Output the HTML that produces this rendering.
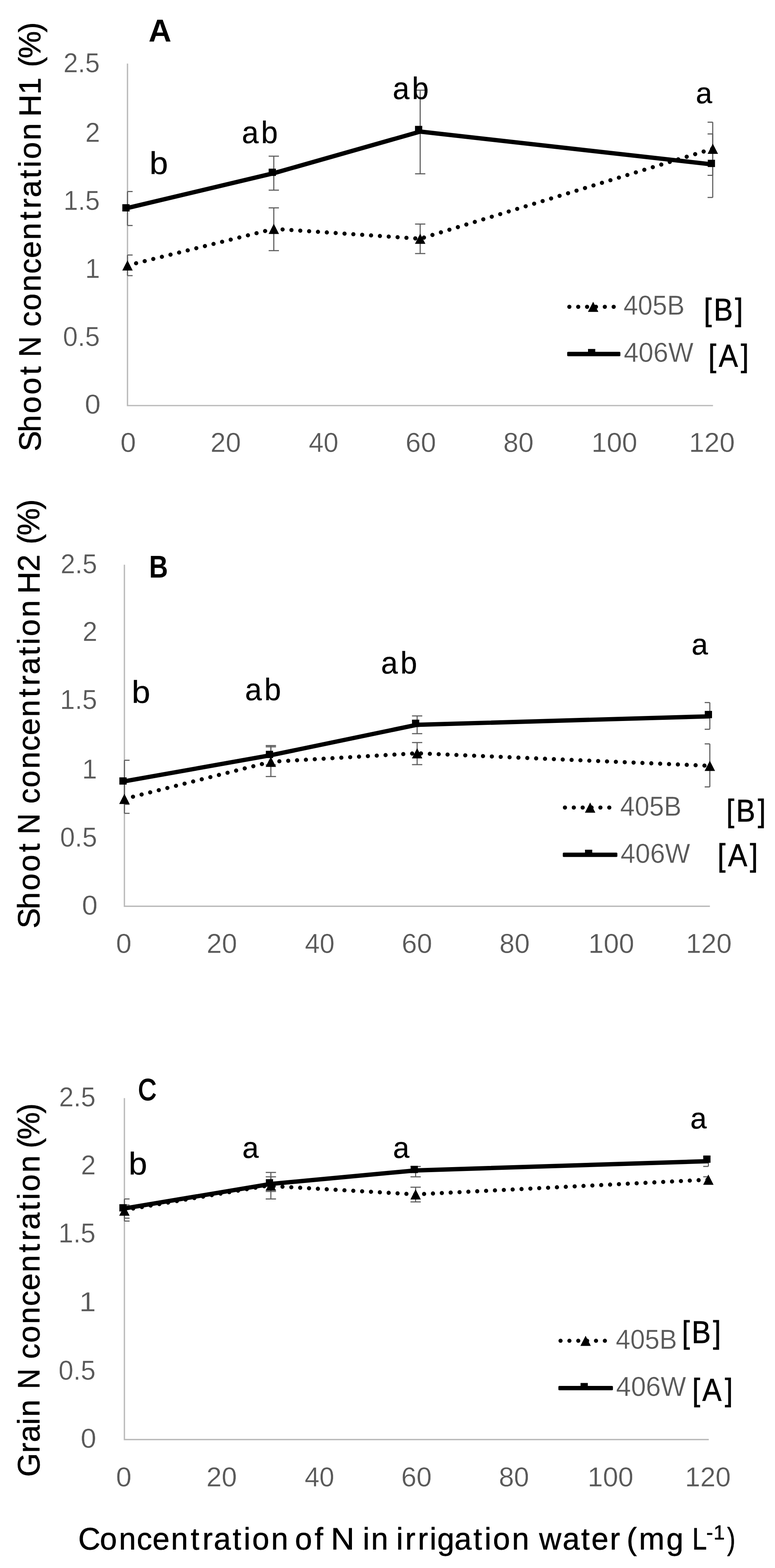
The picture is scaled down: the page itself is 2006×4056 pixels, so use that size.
<!DOCTYPE html>
<html lang="en">
<head>
<meta charset="utf-8">
<title>Shoot and grain N concentration</title>
<style>
html,body{margin:0;padding:0;background:#fff;}
body{width:2006px;height:4056px;overflow:hidden;}
svg{display:block;}
text{font-family:"Liberation Sans",Arial,sans-serif;white-space:pre;}
.g{stroke:#fff;stroke-width:0.5px;}
.k{stroke:#000;stroke-width:0.4px;}
.h{stroke:#000;stroke-width:1px;}
.t{stroke:#000;stroke-width:0.9px;stroke-linejoin:round;}
.p{stroke:#000;stroke-width:2.4px;}
</style>
</head>
<body>
<svg width="2006" height="4056" viewBox="0 0 2006 4056" font-family="Liberation Sans, Arial, sans-serif" role="img" aria-label="Shoot and grain N concentration versus N concentration in irrigation water">
<rect width="2006" height="4056" fill="#fff"/>
<path d="M330.00,164.40 V1049.10 H1845.50" fill="none" stroke="#b9b9b9" stroke-width="3.4"/>
<text transform="translate(164.17,187.45) scale(0.9672,1)" font-size="69.99" fill="#595959" class="g">2.5</text>
<text transform="translate(220.81,367.05) scale(0.9829,1)" font-size="69.99" fill="#595959" class="g">2</text>
<text transform="translate(164.49,543.15) scale(0.9637,1)" font-size="69.99" fill="#595959" class="g">1.5</text>
<text transform="translate(220.58,718.95) scale(0.9845,1)" font-size="69.99" fill="#595959" class="g">1</text>
<text transform="translate(163.01,894.75) scale(0.9794,1)" font-size="69.99" fill="#595959" class="g">0.5</text>
<text transform="translate(219.41,1069.95) scale(1.0503,1)" font-size="69.99" fill="#595959" class="g">0</text>
<text transform="translate(311.86,1169.25) scale(1.0323,1)" font-size="69.99" fill="#595959" class="g">0</text>
<text transform="translate(544.70,1169.25) scale(1.0131,1)" font-size="69.99" fill="#595959" class="g">20</text>
<text transform="translate(799.20,1169.25) scale(0.9865,1)" font-size="69.99" fill="#595959" class="g">40</text>
<text transform="translate(1049.70,1169.25) scale(1.0131,1)" font-size="69.99" fill="#595959" class="g">60</text>
<text transform="translate(1302.76,1169.25) scale(1.0057,1)" font-size="69.99" fill="#595959" class="g">80</text>
<text transform="translate(1530.92,1169.25) scale(1.0153,1)" font-size="69.99" fill="#595959" class="g">100</text>
<text transform="translate(1783.42,1169.25) scale(1.0153,1)" font-size="69.99" fill="#595959" class="g">120</text>
<line x1="330.00" y1="495.40" x2="330.00" y2="583.30" stroke="#5c5c5c" stroke-width="2.8" />
<line x1="330.00" y1="495.40" x2="343.30" y2="495.40" stroke="#5c5c5c" stroke-width="2.8" />
<line x1="330.00" y1="583.30" x2="343.30" y2="583.30" stroke="#5c5c5c" stroke-width="2.8" />
<line x1="708.70" y1="404.00" x2="708.70" y2="491.90" stroke="#5c5c5c" stroke-width="2.8" />
<line x1="695.40" y1="404.00" x2="722.00" y2="404.00" stroke="#5c5c5c" stroke-width="2.8" />
<line x1="695.40" y1="491.90" x2="722.00" y2="491.90" stroke="#5c5c5c" stroke-width="2.8" />
<line x1="1087.60" y1="233.20" x2="1087.60" y2="449.60" stroke="#5c5c5c" stroke-width="2.8" />
<line x1="1074.30" y1="233.20" x2="1100.90" y2="233.20" stroke="#5c5c5c" stroke-width="2.8" />
<line x1="1074.30" y1="449.60" x2="1100.90" y2="449.60" stroke="#5c5c5c" stroke-width="2.8" />
<line x1="1844.80" y1="346.50" x2="1844.80" y2="510.80" stroke="#5c5c5c" stroke-width="2.8" />
<line x1="1831.50" y1="346.50" x2="1844.80" y2="346.50" stroke="#5c5c5c" stroke-width="2.8" />
<line x1="1831.50" y1="510.80" x2="1844.80" y2="510.80" stroke="#5c5c5c" stroke-width="2.8" />
<line x1="330.00" y1="659.70" x2="330.00" y2="713.00" stroke="#5c5c5c" stroke-width="2.8" />
<line x1="330.00" y1="659.70" x2="343.30" y2="659.70" stroke="#5c5c5c" stroke-width="2.8" />
<line x1="330.00" y1="713.00" x2="343.30" y2="713.00" stroke="#5c5c5c" stroke-width="2.8" />
<line x1="708.70" y1="537.70" x2="708.70" y2="648.30" stroke="#5c5c5c" stroke-width="2.8" />
<line x1="695.40" y1="537.70" x2="722.00" y2="537.70" stroke="#5c5c5c" stroke-width="2.8" />
<line x1="695.40" y1="648.30" x2="722.00" y2="648.30" stroke="#5c5c5c" stroke-width="2.8" />
<line x1="1087.60" y1="579.60" x2="1087.60" y2="655.90" stroke="#5c5c5c" stroke-width="2.8" />
<line x1="1074.30" y1="579.60" x2="1100.90" y2="579.60" stroke="#5c5c5c" stroke-width="2.8" />
<line x1="1074.30" y1="655.90" x2="1100.90" y2="655.90" stroke="#5c5c5c" stroke-width="2.8" />
<line x1="1844.80" y1="316.10" x2="1844.80" y2="453.60" stroke="#5c5c5c" stroke-width="2.8" />
<line x1="1831.50" y1="316.10" x2="1844.80" y2="316.10" stroke="#5c5c5c" stroke-width="2.8" />
<line x1="1831.50" y1="453.60" x2="1844.80" y2="453.60" stroke="#5c5c5c" stroke-width="2.8" />
<path d="M330.00,686.50 L708.70,592.00 L1087.60,617.50 L1845.00,384.70" fill="none" stroke="#000" stroke-width="10.8" stroke-linecap="round" stroke-dasharray="0.01 22.94" stroke-dashoffset="0.00" stroke-linejoin="round"/>
<polygon points="330.00,673.30 343.50,699.70 316.50,699.70" fill="#000"/>
<polygon points="708.70,578.80 722.20,605.20 695.20,605.20" fill="#000"/>
<polygon points="1087.60,604.30 1101.10,630.70 1074.10,630.70" fill="#000"/>
<polygon points="1845.00,371.50 1858.50,397.90 1831.50,397.90" fill="#000"/>
<path d="M330.00,538.00 L708.70,448.00 L1087.60,340.40 L1845.00,425.50" fill="none" stroke="#000" stroke-width="11.2" stroke-linejoin="round"/>
<rect x="316.60" y="528.20" width="18.8" height="18.8" fill="#000"/>
<rect x="695.40" y="436.30" width="18.8" height="18.8" fill="#000"/>
<rect x="1074.20" y="325.60" width="18.8" height="18.8" fill="#000"/>
<rect x="1831.90" y="413.30" width="18.8" height="18.8" fill="#000"/>
<text transform="translate(387.00,450.20) scale(1.0579,1)" font-size="81.5" fill="#000" class="k">b</text>
<text transform="scale(0.97,1)" x="645.44 696.76" y="370.30" font-size="80.5" fill="#000" class="k">ab</text>
<text transform="scale(0.97,1)" x="1047.91 1099.23" y="255.80" font-size="80.5" fill="#000" class="k">ab</text>
<text transform="translate(1801.07,267.00) scale(1.0013,1)" font-size="76" fill="#000" class="k">a</text>
<text transform="translate(384.55,106.60) scale(1.0116,1)" font-size="81" fill="#000" font-weight="700">A</text>
<line x1="1473.70" y1="793.60" x2="1589.45" y2="793.60" stroke="#000" stroke-width="10.8" stroke-linecap="round" stroke-dasharray="0.01 22.94"/>
<polygon points="1535.30,780.40 1548.80,806.80 1521.80,806.80" fill="#000"/>
<rect x="1468.10" y="910.00" width="137.70" height="11.4" rx="2.5" fill="#000"/>
<rect x="1522.00" y="902.70" width="18.8" height="14" fill="#000"/>
<text transform="translate(1613.63,814.05) scale(0.9679,1)" font-size="69.99" fill="#595959" class="g">405B</text>
<text transform="translate(1614.40,936.35) scale(0.9872,1)" font-size="69.99" fill="#595959" class="g">406W</text>
<text transform="scale(0.9,1)" x="2024.13 2052.67 2113.99" y="829.30" font-size="82.5" fill="#000" class="h">[B]</text>
<text transform="scale(0.9,1)" x="2037.35 2067.19 2130.66" y="947.70" font-size="82.5" fill="#000" class="h">[A]</text>
<text transform="translate(105.20,1159.30) rotate(-90) scale(1.0,1)" x="-8.20 41.56 90.03 138.60 189.50" y="0" font-size="79.5" fill="#000" class="t">Shoot</text>
<text transform="translate(105.20,923.53) rotate(-90) scale(0.9341,1)" font-size="79.5" fill="#000" class="t">N</text>
<text transform="translate(105.20,841.40) rotate(-90) scale(1.0,1)" x="-3.61 38.21 86.97 133.13 173.60 221.02 272.06 301.92 330.97 379.88 408.12 429.89 478.65" y="0" font-size="79.5" fill="#000" class="t">concentration</text>
<text transform="translate(105.20,294.80) rotate(-90) scale(1.0,1)" x="-7.13 50.24" y="0" font-size="79.5" fill="#000" class="t">H1</text>
<text transform="translate(105.20,169.00) rotate(-90) scale(1.0,1)" x="-4.85 17.98 85.02" y="0" font-size="79.5" fill="#000" class="t">(%)</text>
<path d="M322.00,1460.80 V2344.30 H1837.50" fill="none" stroke="#b9b9b9" stroke-width="3.4"/>
<text transform="translate(156.85,1483.05) scale(0.9705,1)" font-size="69.99" fill="#595959" class="g">2.5</text>
<text transform="translate(213.81,1658.45) scale(0.9829,1)" font-size="69.99" fill="#595959" class="g">2</text>
<text transform="translate(155.59,1834.35) scale(0.9839,1)" font-size="69.99" fill="#595959" class="g">1.5</text>
<text transform="translate(212.51,2014.25) scale(0.9977,1)" font-size="69.99" fill="#595959" class="g">1</text>
<text transform="translate(155.49,2189.55) scale(0.9849,1)" font-size="69.99" fill="#595959" class="g">0.5</text>
<text transform="translate(212.03,2365.55) scale(1.0443,1)" font-size="69.99" fill="#595959" class="g">0</text>
<text transform="translate(300.36,2465.05) scale(1.0323,1)" font-size="69.99" fill="#595959" class="g">0</text>
<text transform="translate(534.70,2465.05) scale(1.0131,1)" font-size="69.99" fill="#595959" class="g">20</text>
<text transform="translate(789.20,2465.05) scale(0.9865,1)" font-size="69.99" fill="#595959" class="g">40</text>
<text transform="translate(1039.70,2465.05) scale(1.0131,1)" font-size="69.99" fill="#595959" class="g">60</text>
<text transform="translate(1292.76,2465.05) scale(1.0057,1)" font-size="69.99" fill="#595959" class="g">80</text>
<text transform="translate(1522.92,2465.05) scale(1.0153,1)" font-size="69.99" fill="#595959" class="g">100</text>
<text transform="translate(1775.42,2465.05) scale(1.0153,1)" font-size="69.99" fill="#595959" class="g">120</text>
<line x1="322.10" y1="1966.60" x2="322.10" y2="2080.60" stroke="#5c5c5c" stroke-width="2.8" />
<line x1="322.10" y1="1966.60" x2="335.40" y2="1966.60" stroke="#5c5c5c" stroke-width="2.8" />
<line x1="322.10" y1="2080.60" x2="335.40" y2="2080.60" stroke="#5c5c5c" stroke-width="2.8" />
<line x1="701.10" y1="1928.60" x2="701.10" y2="1978.60" stroke="#5c5c5c" stroke-width="2.8" />
<line x1="687.80" y1="1928.60" x2="714.40" y2="1928.60" stroke="#5c5c5c" stroke-width="2.8" />
<line x1="687.80" y1="1978.60" x2="714.40" y2="1978.60" stroke="#5c5c5c" stroke-width="2.8" />
<line x1="1079.70" y1="1851.90" x2="1079.70" y2="1897.80" stroke="#5c5c5c" stroke-width="2.8" />
<line x1="1066.40" y1="1851.90" x2="1093.00" y2="1851.90" stroke="#5c5c5c" stroke-width="2.8" />
<line x1="1066.40" y1="1897.80" x2="1093.00" y2="1897.80" stroke="#5c5c5c" stroke-width="2.8" />
<line x1="1837.30" y1="1817.30" x2="1837.30" y2="1886.40" stroke="#5c5c5c" stroke-width="2.8" />
<line x1="1824.00" y1="1817.30" x2="1837.30" y2="1817.30" stroke="#5c5c5c" stroke-width="2.8" />
<line x1="1824.00" y1="1886.40" x2="1837.30" y2="1886.40" stroke="#5c5c5c" stroke-width="2.8" />
<line x1="322.10" y1="2031.00" x2="322.10" y2="2103.90" stroke="#5c5c5c" stroke-width="2.8" />
<line x1="322.10" y1="2103.90" x2="335.40" y2="2103.90" stroke="#5c5c5c" stroke-width="2.8" />
<line x1="701.10" y1="1931.90" x2="701.10" y2="2008.70" stroke="#5c5c5c" stroke-width="2.8" />
<line x1="687.80" y1="1931.90" x2="714.40" y2="1931.90" stroke="#5c5c5c" stroke-width="2.8" />
<line x1="687.80" y1="2008.70" x2="714.40" y2="2008.70" stroke="#5c5c5c" stroke-width="2.8" />
<line x1="1079.70" y1="1920.80" x2="1079.70" y2="1977.90" stroke="#5c5c5c" stroke-width="2.8" />
<line x1="1066.40" y1="1920.80" x2="1093.00" y2="1920.80" stroke="#5c5c5c" stroke-width="2.8" />
<line x1="1066.40" y1="1977.90" x2="1093.00" y2="1977.90" stroke="#5c5c5c" stroke-width="2.8" />
<line x1="1837.30" y1="1924.20" x2="1837.30" y2="2035.50" stroke="#5c5c5c" stroke-width="2.8" />
<line x1="1824.00" y1="1924.20" x2="1837.30" y2="1924.20" stroke="#5c5c5c" stroke-width="2.8" />
<line x1="1824.00" y1="2035.50" x2="1837.30" y2="2035.50" stroke="#5c5c5c" stroke-width="2.8" />
<path d="M322.00,2066.50 L701.00,1970.50 L1079.70,1948.50 L1837.30,1981.00" fill="none" stroke="#000" stroke-width="10.8" stroke-linecap="round" stroke-dasharray="0.01 22.94" stroke-dashoffset="0.00" stroke-linejoin="round"/>
<polygon points="322.00,2053.30 335.50,2079.70 308.50,2079.70" fill="#000"/>
<polygon points="701.00,1957.30 714.50,1983.70 687.50,1983.70" fill="#000"/>
<polygon points="1079.70,1935.30 1093.20,1961.70 1066.20,1961.70" fill="#000"/>
<polygon points="1837.30,1967.80 1850.80,1994.20 1823.80,1994.20" fill="#000"/>
<path d="M322.00,2021.00 L701.00,1953.60 L1079.60,1874.80 L1837.30,1853.00" fill="none" stroke="#000" stroke-width="11.2" stroke-linejoin="round"/>
<rect x="309.00" y="2010.80" width="18.8" height="18.8" fill="#000"/>
<rect x="688.10" y="1942.10" width="18.8" height="18.8" fill="#000"/>
<rect x="1066.40" y="1861.60" width="18.8" height="18.8" fill="#000"/>
<rect x="1824.20" y="1838.90" width="18.8" height="18.8" fill="#000"/>
<text transform="translate(341.00,1818.10) scale(1.0579,1)" font-size="81.5" fill="#000" class="k">b</text>
<text transform="scale(0.97,1)" x="653.79 705.11" y="1810.60" font-size="80.5" fill="#000" class="k">ab</text>
<text transform="scale(0.97,1)" x="1016.88 1068.20" y="1741.70" font-size="80.5" fill="#000" class="k">ab</text>
<text transform="translate(1790.07,1692.50) scale(1.0013,1)" font-size="76" fill="#000" class="k">a</text>
<text transform="translate(385.94,1494.00) scale(0.8338,1)" font-size="81" fill="#000" font-weight="700">B</text>
<line x1="1462.30" y1="2088.90" x2="1578.05" y2="2088.90" stroke="#000" stroke-width="10.8" stroke-linecap="round" stroke-dasharray="0.01 22.94"/>
<polygon points="1527.50,2075.80 1541.00,2102.20 1514.00,2102.20" fill="#000"/>
<rect x="1456.70" y="2205.40" width="141.30" height="11.4" rx="2.5" fill="#000"/>
<rect x="1514.20" y="2198.00" width="18.8" height="14" fill="#000"/>
<text transform="translate(1605.22,2109.85) scale(0.9692,1)" font-size="69.99" fill="#595959" class="g">405B</text>
<text transform="translate(1606.20,2232.25) scale(0.9860,1)" font-size="69.99" fill="#595959" class="g">406W</text>
<text transform="scale(0.9,1)" x="2089.02 2117.01 2179.44" y="2125.30" font-size="82.5" fill="#000" class="h">[B]</text>
<text transform="scale(0.9,1)" x="2063.69 2093.80 2156.66" y="2239.60" font-size="82.5" fill="#000" class="h">[A]</text>
<text transform="translate(102.00,2393.50) rotate(-90) scale(1.0,1)" x="-8.20 41.56 90.03 138.60 189.50" y="0" font-size="79.5" fill="#000" class="t">Shoot</text>
<text transform="translate(102.00,2158.30) rotate(-90) scale(0.9454,1)" font-size="79.5" fill="#000" class="t">N</text>
<text transform="translate(102.00,2075.50) rotate(-90) scale(1.0,1)" x="-3.61 38.21 86.97 133.13 173.60 221.02 272.06 301.92 330.97 379.88 408.12 429.89 478.65" y="0" font-size="79.5" fill="#000" class="t">concentration</text>
<text transform="translate(102.00,1528.90) rotate(-90) scale(1.0,1)" x="-7.08 50.37" y="0" font-size="79.5" fill="#000" class="t">H2</text>
<text transform="translate(102.00,1403.10) rotate(-90) scale(1.0,1)" x="-4.84 18.03 85.11" y="0" font-size="79.5" fill="#000" class="t">(%)</text>
<path d="M322.00,2840.50 V3723.70 H1834.60" fill="none" stroke="#b9b9b9" stroke-width="3.4"/>
<text transform="translate(152.75,2862.45) scale(0.9716,1)" font-size="69.99" fill="#595959" class="g">2.5</text>
<text transform="translate(209.59,3037.85) scale(0.9892,1)" font-size="69.99" fill="#595959" class="g">2</text>
<text transform="translate(151.16,3213.95) scale(0.9884,1)" font-size="69.99" fill="#595959" class="g">1.5</text>
<text transform="translate(204.89,3392.15) scale(1.1166,1)" font-size="69.99" fill="#595959" class="g">1</text>
<text transform="translate(151.39,3569.05) scale(0.9860,1)" font-size="69.99" fill="#595959" class="g">0.5</text>
<text transform="translate(208.84,3744.85) scale(1.0383,1)" font-size="69.99" fill="#595959" class="g">0</text>
<text transform="translate(300.36,3845.25) scale(1.0323,1)" font-size="69.99" fill="#595959" class="g">0</text>
<text transform="translate(534.30,3845.25) scale(1.0131,1)" font-size="69.99" fill="#595959" class="g">20</text>
<text transform="translate(788.40,3845.25) scale(0.9865,1)" font-size="69.99" fill="#595959" class="g">40</text>
<text transform="translate(1038.50,3845.25) scale(1.0131,1)" font-size="69.99" fill="#595959" class="g">60</text>
<text transform="translate(1291.16,3845.25) scale(1.0057,1)" font-size="69.99" fill="#595959" class="g">80</text>
<text transform="translate(1520.92,3845.25) scale(1.0153,1)" font-size="69.99" fill="#595959" class="g">100</text>
<text transform="translate(1773.02,3845.25) scale(1.0153,1)" font-size="69.99" fill="#595959" class="g">120</text>
<line x1="322.10" y1="3101.40" x2="322.10" y2="3151.10" stroke="#5c5c5c" stroke-width="2.8" />
<line x1="322.10" y1="3101.40" x2="335.40" y2="3101.40" stroke="#5c5c5c" stroke-width="2.8" />
<line x1="322.10" y1="3151.10" x2="335.40" y2="3151.10" stroke="#5c5c5c" stroke-width="2.8" />
<line x1="322.10" y1="3117.00" x2="322.10" y2="3158.60" stroke="#5c5c5c" stroke-width="2.8" />
<line x1="322.10" y1="3117.00" x2="335.40" y2="3117.00" stroke="#5c5c5c" stroke-width="2.8" />
<line x1="322.10" y1="3158.60" x2="335.40" y2="3158.60" stroke="#5c5c5c" stroke-width="2.8" />
<line x1="701.10" y1="3044.10" x2="701.10" y2="3081.90" stroke="#5c5c5c" stroke-width="2.8" />
<line x1="687.80" y1="3044.10" x2="714.40" y2="3044.10" stroke="#5c5c5c" stroke-width="2.8" />
<line x1="687.80" y1="3081.90" x2="714.40" y2="3081.90" stroke="#5c5c5c" stroke-width="2.8" />
<line x1="701.10" y1="3032.80" x2="701.10" y2="3101.40" stroke="#5c5c5c" stroke-width="2.8" />
<line x1="687.80" y1="3032.80" x2="714.40" y2="3032.80" stroke="#5c5c5c" stroke-width="2.8" />
<line x1="687.80" y1="3101.40" x2="714.40" y2="3101.40" stroke="#5c5c5c" stroke-width="2.8" />
<line x1="1075.80" y1="3017.30" x2="1075.80" y2="3044.10" stroke="#5c5c5c" stroke-width="2.8" />
<line x1="1062.50" y1="3017.30" x2="1089.10" y2="3017.30" stroke="#5c5c5c" stroke-width="2.8" />
<line x1="1062.50" y1="3044.10" x2="1089.10" y2="3044.10" stroke="#5c5c5c" stroke-width="2.8" />
<line x1="1075.80" y1="3071.00" x2="1075.80" y2="3109.00" stroke="#5c5c5c" stroke-width="2.8" />
<line x1="1062.50" y1="3071.00" x2="1089.10" y2="3071.00" stroke="#5c5c5c" stroke-width="2.8" />
<line x1="1062.50" y1="3109.00" x2="1089.10" y2="3109.00" stroke="#5c5c5c" stroke-width="2.8" />
<line x1="1833.50" y1="2993.00" x2="1833.50" y2="3017.20" stroke="#5c5c5c" stroke-width="2.8" />
<line x1="1820.20" y1="2993.00" x2="1833.50" y2="2993.00" stroke="#5c5c5c" stroke-width="2.8" />
<line x1="1820.20" y1="3017.20" x2="1833.50" y2="3017.20" stroke="#5c5c5c" stroke-width="2.8" />
<line x1="1833.50" y1="3044.00" x2="1833.50" y2="3060.00" stroke="#5c5c5c" stroke-width="2.8" />
<line x1="1820.20" y1="3044.00" x2="1833.50" y2="3044.00" stroke="#5c5c5c" stroke-width="2.8" />
<path d="M322.00,3130.00 L701.00,3065.50" fill="none" stroke="#000" stroke-width="10.8" stroke-linecap="round" stroke-dasharray="0.01 22.94" stroke-dashoffset="0.00" stroke-linejoin="round"/>
<path d="M701.00,3068.00 L1075.80,3089.50 L1833.50,3051.50" fill="none" stroke="#000" stroke-width="10.8" stroke-linecap="round" stroke-dasharray="0.01 22.94" stroke-dashoffset="15.70" stroke-linejoin="round"/>
<polygon points="322.00,3118.30 335.50,3144.70 308.50,3144.70" fill="#000"/>
<polygon points="701.00,3053.30 714.50,3079.70 687.50,3079.70" fill="#000"/>
<polygon points="1075.80,3076.30 1089.30,3102.70 1062.30,3102.70" fill="#000"/>
<polygon points="1833.50,3038.30 1847.00,3064.70 1820.00,3064.70" fill="#000"/>
<path d="M322.00,3126.00 L701.00,3062.50 L1075.80,3027.60 L1833.50,3003.60" fill="none" stroke="#000" stroke-width="11.2" stroke-linejoin="round"/>
<rect x="309.00" y="3114.90" width="18.8" height="18.8" fill="#000"/>
<rect x="688.10" y="3050.20" width="18.8" height="18.8" fill="#000"/>
<rect x="1062.90" y="3015.70" width="18.8" height="18.8" fill="#000"/>
<rect x="1820.30" y="2989.00" width="18.8" height="18.8" fill="#000"/>
<text transform="translate(333.00,3038.20) scale(1.0579,1)" font-size="81.5" fill="#000" class="k">b</text>
<text transform="translate(627.27,2994.80) scale(1.0013,1)" font-size="76" fill="#000" class="k">a</text>
<text transform="translate(1017.27,2994.60) scale(1.0013,1)" font-size="76" fill="#000" class="k">a</text>
<text transform="translate(1786.77,2919.20) scale(1.0013,1)" font-size="76" fill="#000" class="k">a</text>
<text transform="translate(357.53,2845.40) scale(0.8446,1)" font-size="77.5" fill="#000" class="p">C</text>
<line x1="1450.90" y1="3468.20" x2="1566.65" y2="3468.20" stroke="#000" stroke-width="10.8" stroke-linecap="round" stroke-dasharray="0.01 22.94"/>
<polygon points="1515.80,3455.20 1529.30,3481.60 1502.30,3481.60" fill="#000"/>
<rect x="1445.30" y="3584.90" width="141.20" height="11.4" rx="2.5" fill="#000"/>
<rect x="1502.70" y="3577.40" width="18.8" height="14" fill="#000"/>
<text transform="translate(1593.72,3488.85) scale(0.9704,1)" font-size="69.99" fill="#595959" class="g">405B</text>
<text transform="translate(1594.59,3610.65) scale(0.9916,1)" font-size="69.99" fill="#595959" class="g">406W</text>
<text transform="scale(0.9,1)" x="1961.02 1989.06 2050.55" y="3473.80" font-size="82.5" fill="#000" class="h">[B]</text>
<text transform="scale(0.9,1)" x="1990.80 2020.13 2084.77" y="3622.90" font-size="82.5" fill="#000" class="h">[A]</text>
<text transform="translate(102.00,3814.00) rotate(-90) scale(1.0,1)" x="-6.18 55.73 83.56 128.63 149.16" y="0" font-size="79.5" fill="#000" class="t">Grain</text>
<text transform="translate(102.00,3593.02) rotate(-90) scale(0.9183,1)" font-size="79.5" fill="#000" class="t">N</text>
<text transform="translate(102.00,3511.70) rotate(-90) scale(1.0,1)" x="-3.61 38.21 86.97 133.13 173.60 221.02 272.06 301.92 330.97 379.88 408.12 429.89 478.65" y="0" font-size="79.5" fill="#000" class="t">concentration</text>
<text transform="translate(102.00,2965.40) rotate(-90) scale(1.0,1)" x="-4.87 17.88 84.84" y="0" font-size="79.5" fill="#000" class="t">(%)</text>
<text transform="translate(209.80,4008.20) scale(1.0,1)" x="-7.34 48.77 97.84 144.29 185.02 232.75 284.05 314.12 343.42 392.56 420.96 442.96 492.03" y="0" font-size="79.5" fill="#000" class="t">Concentration</text>
<text transform="translate(764.40,4008.20) scale(1.0,1)" x="-0.88 49.95" y="0" font-size="79.5" fill="#000" class="t">of</text>
<text transform="translate(856.32,4008.20) scale(1.0650,1)" font-size="79.5" fill="#000" class="t">N</text>
<text transform="translate(943.60,4008.20) scale(1.0,1)" x="-4.68 16.84" y="0" font-size="79.5" fill="#000" class="t">in</text>
<text transform="translate(1030.30,4008.20) scale(1.0,1)" x="-4.63 18.47 51.11 82.06 101.51 145.95 195.17 223.63 245.71 294.89" y="0" font-size="79.5" fill="#000" class="t">irrigation</text>
<text transform="translate(1391.80,4008.20) scale(1.0,1)" x="3.71 64.38 112.48 139.06 186.72" y="0" font-size="79.5" fill="#000" class="t">water</text>
<text transform="translate(1626.00,4008.20) scale(1.0,1)" x="-4.14 27.79 98.66" y="0" font-size="79.5" fill="#000" class="t">(mg</text>
<text transform="translate(1791.52,4008.20) scale(0.8662,1)" font-size="79.5" fill="#000" class="t">L</text>
<text transform="translate(1830.30,3981.60) scale(1.0,1)" x="-1.94 16.78" y="0" font-size="52" fill="#000" class="t">-1</text>
<text transform="translate(1882.12,4008.20) scale(0.8098,1)" font-size="79.5" fill="#000" class="t">)</text>
</svg>
</body>
</html>
